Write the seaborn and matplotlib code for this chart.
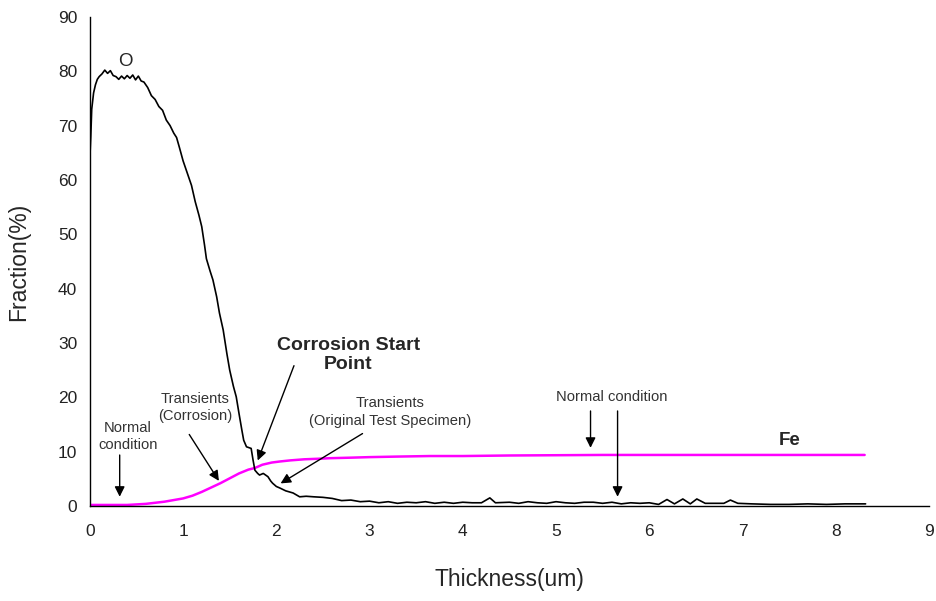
import matplotlib
matplotlib.use("Agg")
import matplotlib.pyplot as plt
import seaborn as sns
import pandas as pd

# ---- data ----
o_x = [0.00, 0.01, 0.02, 0.04, 0.06, 0.08, 0.10, 0.13, 0.16, 0.19, 0.22, 0.25, 0.28, 0.31,
       0.34, 0.37, 0.40, 0.43, 0.46, 0.49, 0.52, 0.55, 0.58, 0.62, 0.66, 0.70, 0.74, 0.78,
       0.82, 0.86, 0.90, 0.93, 0.96, 1.00, 1.04, 1.09, 1.13, 1.17, 1.20, 1.23, 1.25, 1.29,
       1.32, 1.36, 1.39, 1.43, 1.47, 1.50, 1.54, 1.57, 1.60, 1.63, 1.65, 1.68, 1.73, 1.75,
       1.77, 1.80, 1.82, 1.86, 1.91, 1.94, 1.96, 2.00, 2.04, 2.10, 2.18, 2.25, 2.32, 2.40,
       2.50, 2.60, 2.70, 2.80, 2.90, 3.00, 3.10, 3.20, 3.30, 3.40, 3.50, 3.60, 3.70, 3.80,
       3.90, 4.00, 4.10, 4.20, 4.29, 4.35, 4.50, 4.60, 4.70, 4.80, 4.90, 5.00, 5.10, 5.20,
       5.30, 5.40, 5.50, 5.60, 5.70, 5.80, 5.90, 6.00, 6.10, 6.19, 6.27, 6.36, 6.44, 6.51,
       6.60, 6.70, 6.80, 6.87, 6.95, 7.10, 7.30, 7.50, 7.70, 7.90, 8.10, 8.32]
o_y = [64.0, 68.0, 73.0, 76.0, 77.5, 78.5, 79.0, 79.5, 80.2, 79.6, 80.1, 79.2, 79.0, 78.5,
       79.1, 78.6, 79.2, 78.7, 79.3, 78.4, 79.1, 78.2, 78.0, 77.0, 75.5, 74.8, 73.5, 72.8,
       71.0, 70.0, 68.6, 67.8, 66.0, 63.5, 61.5, 59.0, 56.0, 53.5, 51.4, 48.0, 45.5, 43.2,
       41.6, 38.5, 35.5, 32.4, 28.0, 25.0, 22.0, 20.1, 17.0, 14.0, 12.1, 10.9, 10.6, 8.5,
       6.6, 6.0, 5.7, 6.0, 5.4, 4.6, 4.2, 3.6, 3.3, 2.8, 2.4, 1.7, 1.8, 1.7,
       1.6, 1.4, 1.0, 1.1, 0.8, 0.9, 0.6, 0.8, 0.5, 0.7, 0.6, 0.8, 0.5, 0.7,
       0.5, 0.7, 0.6, 0.6, 1.5, 0.6, 0.7, 0.5, 0.8, 0.6, 0.5, 0.8, 0.6, 0.5,
       0.7, 0.7, 0.5, 0.7, 0.4, 0.6, 0.5, 0.6, 0.3, 1.2, 0.4, 1.3, 0.4, 1.3,
       0.5, 0.5, 0.5, 1.1, 0.5, 0.4, 0.3, 0.3, 0.4, 0.3, 0.4, 0.4]

fe_x = [0.00, 0.20, 0.40, 0.50, 0.60, 0.70, 0.80, 0.90, 1.00, 1.10, 1.20, 1.30, 1.40, 1.50,
        1.60, 1.70, 1.77, 1.85, 1.95, 2.04, 2.15, 2.30, 2.45, 2.57, 2.80, 3.00, 3.30, 3.65,
        4.00, 4.50, 5.00, 5.50, 6.00, 6.50, 7.00, 7.50, 8.00, 8.31]
fe_y = [0.2, 0.2, 0.2, 0.3, 0.4, 0.6, 0.8, 1.1, 1.4, 1.9, 2.6, 3.4, 4.2, 5.1,
        6.0, 6.7, 7.0, 7.6, 8.0, 8.2, 8.4, 8.6, 8.7, 8.8, 8.9, 9.0, 9.1, 9.2,
        9.2, 9.3, 9.35, 9.4, 9.4, 9.4, 9.4, 9.4, 9.4, 9.4]

x_ticks = [0, 1, 2, 3, 4, 5, 6, 7, 8, 9]
y_ticks = [0, 10, 20, 30, 40, 50, 60, 70, 80, 90]

df_o = pd.DataFrame({"Thickness": o_x, "Fraction": o_y})
df_fe = pd.DataFrame({"Thickness": fe_x, "Fraction": fe_y})

sns.set_style("white")
plt.rcParams["font.family"] = ["Liberation Sans", "DejaVu Sans"]

fig = plt.figure(figsize=(9.36, 6.01), dpi=100)
ax = fig.add_axes([0.096, 0.158, 0.8965, 0.814])

sns.lineplot(data=df_fe, x="Thickness", y="Fraction", color="#ff00ff", linewidth=1.8,
             sort=False, estimator=None, ax=ax)
sns.lineplot(data=df_o, x="Thickness", y="Fraction", color="black", linewidth=1.2,
             sort=False, estimator=None, ax=ax)

ax.set_xlim(0, 9)
ax.set_ylim(0, 90)
ax.set_xticks(x_ticks)
ax.set_yticks(y_ticks)
for s in ["top", "right"]:
    ax.spines[s].set_visible(False)
for s in ["left", "bottom"]:
    ax.spines[s].set_color("black")
    ax.spines[s].set_linewidth(1.0)
ax.tick_params(direction="in", length=5, width=0.8, colors="black", labelcolor="#222222",
               labelsize=12.5)
ax.tick_params(axis="x", pad=13)
ax.tick_params(axis="y", pad=9)
ax.set_xlabel("Thickness(um)", fontsize=16.5, labelpad=21)
ax.set_ylabel("Fraction(%)", fontsize=16.5, labelpad=20)

txt = "#333333"
ax.text(0.38, 81.7, "O", fontsize=13.5, ha="center", va="center")
ax.text(7.5, 12.1, "Fe", fontsize=13.5, fontweight="bold", ha="center", va="center")
ax.text(2.77, 27.8, "Corrosion Start\nPoint", fontsize=14, fontweight="bold",
        ha="center", va="center", linespacing=1.2)
ax.text(1.13, 18.1, "Transients\n(Corrosion)", fontsize=10.6, color=txt, ha="center",
        va="center", linespacing=1.3)
ax.text(0.41, 12.8, "Normal\ncondition", fontsize=10.6, color=txt, ha="center",
        va="center", linespacing=1.3)
ax.text(3.22, 17.3, "Transients\n(Original Test Specimen)", fontsize=10.6, color=txt,
        ha="center", va="center", linespacing=1.3)
ax.text(5.6, 20.1, "Normal condition", fontsize=10.6, color=txt, ha="center", va="center")

arrow = dict(arrowstyle="-|>", color="black", lw=1.0, mutation_scale=15)
ax.annotate("", xy=(1.79, 7.9), xytext=(2.20, 26.3), arrowprops=arrow)
ax.annotate("", xy=(1.40, 4.2), xytext=(1.05, 13.6), arrowprops=arrow)
ax.annotate("", xy=(0.32, 1.2), xytext=(0.32, 9.9), arrowprops=arrow)
ax.annotate("", xy=(2.02, 3.9), xytext=(2.95, 13.6), arrowprops=arrow)
ax.annotate("", xy=(5.37, 10.2), xytext=(5.37, 18.0), arrowprops=arrow)
ax.annotate("", xy=(5.66, 1.2), xytext=(5.66, 18.0), arrowprops=arrow)

fig.savefig("out.png", dpi=100)
